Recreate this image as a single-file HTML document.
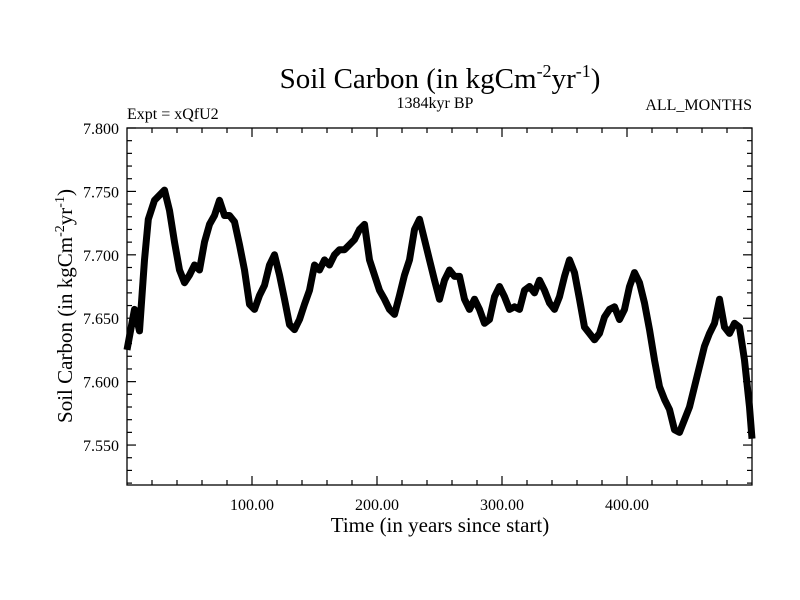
<!DOCTYPE html>
<html><head><meta charset="utf-8"><style>
body{margin:0;background:#fff}
svg{display:block;font-family:"Liberation Serif",serif}
</style></head><body>
<svg id="chart" width="800" height="600" viewBox="0 0 800 600">
<text x="440" y="88" font-size="29" text-anchor="middle">Soil Carbon (in kgCm<tspan dy="-11" font-size="18">-2</tspan><tspan dy="11">yr</tspan><tspan dy="-11" font-size="18">-1</tspan><tspan dy="11">)</tspan></text>
<text x="435" y="108" font-size="16" text-anchor="middle">1384kyr BP</text>
<text x="127" y="119" font-size="16">Expt = xQfU2</text>
<text x="752" y="110" font-size="16" text-anchor="end">ALL_MONTHS</text>
<text x="440" y="532" font-size="21" text-anchor="middle">Time (in years since start)</text>
<text transform="translate(72,306) rotate(-90)" font-size="21" text-anchor="middle">Soil Carbon (in kgCm<tspan dy="-8" font-size="14">-2</tspan><tspan dy="8">yr</tspan><tspan dy="-8" font-size="14">-1</tspan><tspan dy="8">)</tspan></text>
<g id="ticks"></g>
<path id="series" fill="none" stroke="#000" stroke-width="7" stroke-linejoin="round"></path>
<rect x="127" y="128" width="625" height="357" fill="none" stroke="#000" stroke-width="1.3"></rect>
</svg>
<script>
const years=[0,6,10,14,17,22,26,30,34,38,42,46,50,54,58,62,66,70,74,78,82,86,90,94,98,102,106,110,114,118,122,126,130,134,138,142,146,150,154,158,162,166,170,174,178,182,186,190,194,198,202,206,210,214,218,222,226,230,234,238,242,246,250,254,258,262,266,270,274,278,282,286,290,294,298,302,306,310,314,318,322,326,330,334,338,342,346,350,354,358,362,366,370,374,378,382,386,390,394,398,402,406,410,414,418,422,426,430,434,438,442,446,450,454,458,462,466,470,474,478,482,486,490,494,498,500];
const values=[7.625,7.657,7.64,7.696,7.728,7.743,7.747,7.751,7.735,7.71,7.688,7.678,7.684,7.692,7.688,7.71,7.724,7.731,7.743,7.731,7.731,7.726,7.708,7.688,7.661,7.657,7.668,7.676,7.692,7.70,7.684,7.665,7.645,7.641,7.649,7.661,7.672,7.692,7.688,7.696,7.692,7.70,7.704,7.704,7.708,7.712,7.72,7.724,7.696,7.684,7.672,7.665,7.657,7.653,7.668,7.684,7.696,7.72,7.728,7.712,7.696,7.68,7.665,7.68,7.688,7.683,7.683,7.665,7.657,7.665,7.657,7.646,7.649,7.667,7.675,7.667,7.657,7.659,7.657,7.672,7.675,7.670,7.68,7.672,7.662,7.657,7.667,7.683,7.696,7.686,7.665,7.643,7.638,7.633,7.638,7.651,7.657,7.659,7.649,7.657,7.675,7.686,7.678,7.662,7.641,7.617,7.596,7.586,7.578,7.562,7.56,7.57,7.58,7.596,7.612,7.628,7.638,7.646,7.665,7.643,7.638,7.646,7.643,7.617,7.58,7.555];
const xMajor=[100,200,300,400];
const xMajorLabels=["100.00","200.00","300.00","400.00"];
const yMajor=[7.55,7.60,7.65,7.70,7.75,7.80];
const yMajorLabels=["7.550","7.600","7.650","7.700","7.750","7.800"];
const L=127,R=752,T=128,B=485,XMIN=0,XMAX=500,YMIN=7.5185,YMAX=7.8;
function sx(v){return L+(v-XMIN)/(XMAX-XMIN)*(R-L);}
function sy(v){return B-(v-YMIN)/(YMAX-YMIN)*(B-T);}
const NS="http://www.w3.org/2000/svg";
const g=document.getElementById('ticks');
function line(x1,y1,x2,y2,name){const l=document.createElementNS(NS,'line');l.setAttribute('x1',x1);l.setAttribute('y1',y1);l.setAttribute('x2',x2);l.setAttribute('y2',y2);l.setAttribute('stroke','#000');l.setAttribute('stroke-width','1.2');


g.appendChild(l);}
function text(x,y,s,anchor,name){const t=document.createElementNS(NS,'text');t.setAttribute('x',x);t.setAttribute('y',y);t.setAttribute('font-size','16');t.setAttribute('text-anchor',anchor);t.textContent=s;


g.appendChild(t);}
for(let v=20;v<500;v+=20){const x=sx(v);const len=(v%100===0)?9:5;line(x,B,x,B-len,'x-tick');line(x,T,x,T+len,'x-tick-top');}
xMajor.forEach((v,i)=>text(sx(v),510,xMajorLabels[i],'middle','x-tick-label'));
for(let k=752;k<=780;k++){const v=k/100;const y=sy(v);const len=(k%5===0)?9:5;line(L,y,L+len,y,'y-tick');line(R,y,R-len,y,'y-tick-right');}
yMajor.forEach((v,i)=>text(119,sy(v)+6,yMajorLabels[i],'end','y-tick-label'));
let d='';years.forEach((t,i)=>{d+=(i?'L':'M')+sx(t).toFixed(1)+','+sy(values[i]).toFixed(1);});
document.getElementById('series').setAttribute('d',d);
</script>
</body></html>
